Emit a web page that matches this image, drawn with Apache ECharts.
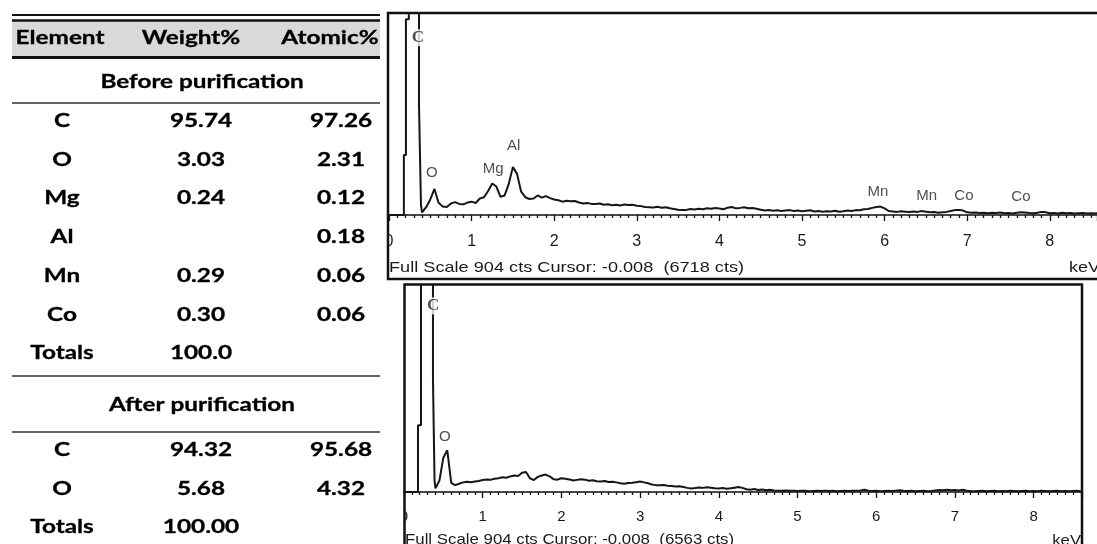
<!DOCTYPE html>
<html>
<head>
<meta charset="utf-8">
<script src="https://cdn.jsdelivr.net/npm/echarts@6/dist/echarts.min.js"></script>
<style>
  html, body { margin: 0; padding: 0; background: #ffffff; }
  #chart { width: 1097px; height: 544px; }
</style>
</head>
<body>
<div id="chart"></div>
<script>
// ---- EDS composition table ----
const tableHeader = ['Element', 'Weight%', 'Atomic%'];
const beforeTitle = 'Before purification';
const beforeRows = [
  ['C', '95.74', '97.26'],
  ['O', '3.03', '2.31'],
  ['Mg', '0.24', '0.12'],
  ['Al', '', '0.18'],
  ['Mn', '0.29', '0.06'],
  ['Co', '0.30', '0.06'],
  ['Totals', '100.0', '']
];
const afterTitle = 'After purification';
const afterRows = [
  ['C', '94.32', '95.68'],
  ['O', '5.68', '4.32'],
  ['Totals', '100.00', '']
];

// ---- EDS spectra (energy in keV, intensity in counts) ----
const fullScale = 904;
const xTickStep = 1;
const statusBefore = 'Full Scale 904 cts Cursor: -0.008  (6718 cts)';
const statusAfter = 'Full Scale 904 cts Cursor: -0.008  (6563 cts)';

// C K-alpha peak outline (off scale), as [keV, counts]
const peakCBefore = [
  [0, 0], [0.18, 0], [0.18, 270], [0.205, 270], [0.205, 880], [0.24, 880],
  [0.24, 6718], [0.363, 6718], [0.363, 495], [0.387, 495], [0.387, 45]
];
const peakCAfter = [
  [0, 0], [0.178, 0], [0.178, 291], [0.216, 291], [0.216, 870], [0.24, 870],
  [0.24, 6563], [0.368, 6563], [0.368, 497], [0.388, 497], [0.388, 51]
];

// Continuum channels from 0.40 keV in 0.05 keV steps
const channelStart = 0.40;
const channelWidth = 0.05;
const countsBefore = [
  12, 35, 70, 117, 55, 38, 36, 52, 58, 50,
  48, 56, 60, 54, 74, 80, 108, 142, 128, 82,
  88, 140, 216, 185, 105, 80, 72, 74, 88, 78,
  85, 76, 70, 66, 60, 64, 62, 63, 56, 52,
  54, 50, 49, 52, 46, 48, 44, 46, 43, 47,
  45, 46, 42, 40, 36, 35, 34, 37, 33, 35,
  30, 27, 24, 22, 23, 27, 25, 28, 26, 30,
  28, 31, 29, 26, 33, 36, 30, 32, 35, 30,
  31, 28, 24, 20, 22, 19, 21, 18, 20, 22,
  18, 20, 17, 19, 21, 16, 18, 15, 17, 16,
  19, 15, 17, 20, 18, 22, 21, 26, 27, 32,
  36, 38, 30, 18, 16, 14, 17, 15, 13, 16,
  14, 18, 15, 12, 13, 10, 12, 14, 18, 22,
  23, 20, 12, 10, 11, 9, 10, 8, 10, 9,
  11, 8, 9, 7, 10, 12, 11, 9, 8, 10,
  14, 12, 8, 9, 7, 10, 8, 9, 7, 8,
  9, 7, 8, 7, 8
];
const countsAfter = [
  16, 50, 150, 182, 40, 30, 36, 42, 45, 43,
  46, 48, 52, 55, 53, 58, 60, 64, 62, 68,
  72, 70, 84, 87, 60, 52, 66, 72, 76, 68,
  56, 54, 60, 58, 55, 50, 53, 56, 54, 49,
  51, 47, 46, 48, 44, 45, 42, 38, 36, 39,
  40, 43, 46, 42, 38, 33, 30, 29, 31, 27,
  26, 24, 25, 22, 18, 15, 17, 20, 18, 21,
  19, 16, 15, 17, 14, 16, 19, 22, 18, 12,
  10, 13, 9, 11, 8, 10, 7, 6, 5, 7,
  5, 6, 4, 6, 5, 3, 4, 5, 4, 6,
  4, 5, 3, 4, 5, 4, 6, 5, 7, 10,
  6, 4, 5, 3, 4, 5, 4, 6, 8, 5,
  4, 5, 3, 4, 5, 3, 4, 7, 9, 8,
  10, 8, 9, 7, 10, 6, 4, 3, 4, 5,
  3, 4, 5, 3, 4, 3, 5, 4, 3, 4,
  5, 3, 4, 3, 5, 4, 3, 4, 5, 3,
  4, 3, 4, 5, 3
];

// Peak identification labels: element, energy (keV), label height (counts)
const labelNamesBefore = ['O', 'Mg', 'Al', 'Mn', 'Mn', 'Co', 'Co'];
const labelKeVBefore = [0.52, 1.26, 1.51, 5.92, 6.51, 6.96, 7.65];
const labelCtsBefore = [189, 207, 311, 104, 86, 86, 81];
const labelNamesAfter = ['O'];
const labelKeVAfter = [0.52];
const labelCtsAfter = [239];
const carbonLabel = 'C';
const carbonKeV = [0.35, 0.37];
const carbonCts = [797, 813];

// ---------------------------------------------------------------
function spectrum(peak, counts) {
  return peak.concat(counts.map((c, i) =>
    [+(channelStart + i * channelWidth).toFixed(2), c]));
}
function peakLabels(names, kev, cts) {
  return names.map((n, i) => ({ name: n, value: [kev[i], cts[i]] }));
}

const TFONT = 'bold 19px Lato';
const TSCALE = 1.28;
const colX = [62, 201, 341];
const headX = [60, 191, 330];
const TL = 12, TR = 380;

const g = [];
function hline(y, w, color) {
  g.push({ type: 'line', shape: { x1: TL, y1: y, x2: TR, y2: y },
    style: { stroke: color || '#111', lineWidth: w }, z: 10 });
}
function txt(s, x, y) {
  g.push({ type: 'text', x: x, y: y, z: 11, scaleX: TSCALE,
    style: { text: s, font: TFONT, fill: '#000', stroke: '#000', lineWidth: 0.3,
      align: 'center', verticalAlign: 'middle' } });
}

// table header
g.push({ type: 'rect', shape: { x: TL, y: 21, width: TR - TL, height: 35 },
  style: { fill: '#d9d9d9' }, z: 9 });
hline(15, 2);
hline(20.5, 2.5);
hline(57.5, 3);
tableHeader.forEach((h, i) => txt(h, headX[i], 38));
txt(beforeTitle, 202, 82);
hline(103, 1.5, '#333');
const beforeY = [121, 160, 198, 237, 276, 315, 353];
beforeRows.forEach((r, j) => r.forEach((s, i) => { if (s) txt(s, colX[i], beforeY[j]); }));
hline(376, 1.5, '#333');
txt(afterTitle, 202, 405);
hline(432, 1.5, '#333');
const afterY = [450, 489, 527];
afterRows.forEach((r, j) => r.forEach((s, i) => { if (s) txt(s, colX[i], afterY[j]); }));

// masks that trim the "0" tick labels at the frame edges
g.push({ type: 'rect', shape: { x: 381, y: 222, width: 7, height: 34 }, style: { fill: '#fff' }, z: 20 });
g.push({ type: 'rect', shape: { x: 390, y: 500, width: 14, height: 30 }, style: { fill: '#fff' }, z: 20 });

// spectrum frames
g.push({ type: 'rect', shape: { x: 388, y: 13, width: 760, height: 266 },
  style: { fill: null, stroke: '#111', lineWidth: 2.5 }, z: 21 });
g.push({ type: 'rect', shape: { x: 404.5, y: 284.5, width: 677.5, height: 300 },
  style: { fill: null, stroke: '#111', lineWidth: 2.5 }, z: 21 });

// status lines and unit labels
const SFONT = '15px "Liberation Sans"';
g.push({ type: 'text', x: 389, y: 268, scaleX: 1.21, z: 22,
  style: { text: statusBefore, font: SFONT, fill: '#1a1a1a', align: 'left', verticalAlign: 'middle' } });
g.push({ type: 'text', x: 1100, y: 268, scaleX: 1.2, z: 22,
  style: { text: 'keV', font: SFONT, fill: '#1a1a1a', align: 'right', verticalAlign: 'middle' } });
g.push({ type: 'text', x: 405, y: 540, scaleX: 1.16, z: 22,
  style: { text: statusAfter, font: '14.5px "Liberation Sans"', fill: '#1a1a1a', align: 'left', verticalAlign: 'middle' } });
g.push({ type: 'text', x: 1081, y: 541, scaleX: 1.15, z: 22,
  style: { text: 'keV', font: '14.5px "Liberation Sans"', fill: '#1a1a1a', align: 'right', verticalAlign: 'middle' } });

function xAxisFor(gi, max, fs, margin) {
  return {
    type: 'value', gridIndex: gi, min: 0, max: max, interval: xTickStep,
    axisLine: { show: true, onZero: false, lineStyle: { color: '#111', width: 1.6 } },
    axisTick: { show: true, length: 6, lineStyle: { color: '#111', width: 1.3 } },
    minorTick: { show: true, splitNumber: 10, length: 3, lineStyle: { color: '#111', width: 1.3 } },
    splitLine: { show: false },
    axisLabel: { show: true, fontFamily: 'Liberation Sans', fontSize: fs, color: '#1a1a1a', margin: margin,
      showMaxLabel: false,
      formatter: v => (Math.abs(v - Math.round(v)) < 1e-6 ? String(Math.round(v)) : '') }
  };
}
function yAxisFor(gi) {
  return { type: 'value', gridIndex: gi, min: 0, max: fullScale, show: false, splitLine: { show: false } };
}
const lineStyle = { color: '#161616', width: 2 };
const labelStyle = { show: true, position: 'inside', formatter: p => p.name,
  fontFamily: 'Liberation Sans', fontSize: 15, color: '#222' };
const carbonStyle = Object.assign({}, labelStyle, {
  fontFamily: 'Liberation Serif', fontWeight: 'bold', fontSize: 17, color: '#1d2333',
  backgroundColor: '#ffffff', padding: [0, 1] });

const chart = echarts.init(document.getElementById('chart'), null, { renderer: 'canvas' });
chart.setOption({
  animation: false,
  backgroundColor: '#ffffff',
  grid: [
    { left: 389, top: 14, width: 708, height: 201 },
    { left: 404, top: 285, width: 678, height: 207 }
  ],
  xAxis: [xAxisFor(0, 708 / 82.6, 16, 19), xAxisFor(1, 678 / 78.7, 15, 17)],
  yAxis: [yAxisFor(0), yAxisFor(1)],
  series: [
    { type: 'line', xAxisIndex: 0, yAxisIndex: 0, data: spectrum(peakCBefore, countsBefore),
      showSymbol: false, clip: true, lineStyle: lineStyle, silent: true, z: 2 },
    { type: 'line', xAxisIndex: 1, yAxisIndex: 1, data: spectrum(peakCAfter, countsAfter),
      showSymbol: false, clip: true, lineStyle: lineStyle, silent: true, z: 2 },
    { type: 'scatter', xAxisIndex: 0, yAxisIndex: 0, symbolSize: 0, silent: true, z: 10,
      data: peakLabels(labelNamesBefore, labelKeVBefore, labelCtsBefore), label: labelStyle },
    { type: 'scatter', xAxisIndex: 1, yAxisIndex: 1, symbolSize: 0, silent: true, z: 10,
      data: peakLabels(labelNamesAfter, labelKeVAfter, labelCtsAfter), label: labelStyle },
    { type: 'scatter', xAxisIndex: 0, yAxisIndex: 0, symbolSize: 0, silent: true, z: 10,
      data: [{ name: carbonLabel, value: [carbonKeV[0], carbonCts[0]] }], label: carbonStyle },
    { type: 'scatter', xAxisIndex: 1, yAxisIndex: 1, symbolSize: 0, silent: true, z: 10,
      data: [{ name: carbonLabel, value: [carbonKeV[1], carbonCts[1]] }], label: carbonStyle }
  ],
  graphic: g
});
</script>
</body>
</html>
